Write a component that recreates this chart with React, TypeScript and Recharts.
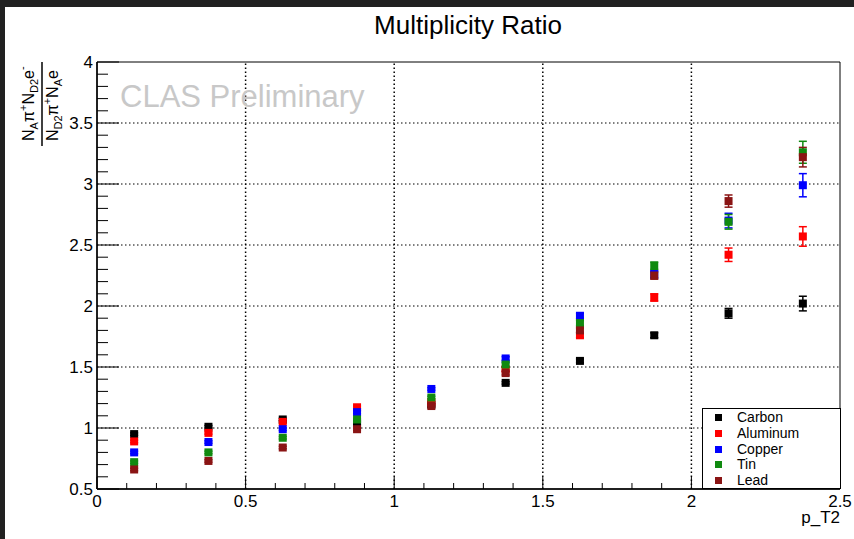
import { ErrorBar, Legend, ReferenceArea, ReferenceLine, Scatter, ScatterChart, XAxis, YAxis } from 'recharts';

// bin centres in p_T2
const pT2 = [0.125, 0.375, 0.625, 0.875, 1.125, 1.375, 1.625, 1.875, 2.125, 2.375];

const carbon = [0.95, 1.01, 1.07, 1.04, 1.19, 1.37, 1.55, 1.76, 1.94, 2.02];
const carbonErr = [0.01, 0.01, 0.01, 0.01, 0.01, 0.01, 0.015, 0.02, 0.04, 0.06];
const aluminum = [0.89, 0.96, 1.05, 1.17, 1.21, 1.48, 1.76, 2.07, 2.42, 2.57];
const aluminumErr = [0.01, 0.01, 0.01, 0.01, 0.01, 0.015, 0.02, 0.03, 0.055, 0.08];
const copper = [0.8, 0.885, 0.99, 1.13, 1.32, 1.57, 1.92, 2.26, 2.7, 2.99];
const copperErr = [0.01, 0.01, 0.01, 0.01, 0.01, 0.015, 0.02, 0.03, 0.06, 0.095];
const tin = [0.72, 0.8, 0.92, 1.07, 1.25, 1.52, 1.86, 2.33, 2.69, 3.26];
const tinErr = [0.01, 0.01, 0.01, 0.01, 0.01, 0.015, 0.02, 0.03, 0.06, 0.09];
const lead = [0.66, 0.73, 0.84, 0.99, 1.18, 1.45, 1.8, 2.25, 2.86, 3.22];
const leadErr = [0.01, 0.01, 0.01, 0.01, 0.01, 0.015, 0.02, 0.03, 0.05, 0.08];

const xGrid = [0.5, 1, 1.5, 2];
const yGrid = [1, 1.5, 2, 2.5, 3, 3.5];
const xTicks = Array.from({ length: 26 }, (_, i) => i / 10);
const yTicks = Array.from({ length: 36 }, (_, i) => 0.5 + i / 10);

const series = [
  { name: 'Carbon', color: '#000000', values: carbon, errors: carbonErr },
  { name: 'Aluminum', color: '#ff0000', values: aluminum, errors: aluminumErr },
  { name: 'Copper', color: '#0000ff', values: copper, errors: copperErr },
  { name: 'Tin', color: '#108a10', values: tin, errors: tinErr },
  { name: 'Lead', color: '#8a1414', values: lead, errors: leadErr },
];

const font = '"Liberation Sans", Arial, Helvetica, sans-serif';

const isMajor = (v: number) => Math.abs(v * 2 - Math.round(v * 2)) < 1e-6;
const label = (v: number) => String(Math.round(v * 10) / 10);

const XTick = ({ x, y, payload }: any) => {
  const major = isMajor(payload.value);
  return (
    <g>
      <line x1={x} x2={x} y1={y} y2={y - (major ? 12 : 6)} stroke="#000" />
      {major && (
        <text x={x} y={y + 18} textAnchor="middle" fontSize={17} fontFamily={font} fill="#000">
          {label(payload.value)}
        </text>
      )}
    </g>
  );
};

const YTick = ({ x, y, payload }: any) => {
  const major = isMajor(payload.value);
  return (
    <g>
      <line x1={x} x2={x + (major ? 22 : 11)} y1={y} y2={y} stroke="#000" />
      {major && (
        <text x={x - 4} y={y} dy={6} textAnchor="end" fontSize={17} fontFamily={font} fill="#000">
          {label(payload.value)}
        </text>
      )}
    </g>
  );
};

const LegendBox = () => (
  <div
    style={{
      width: 139,
      height: 81,
      boxSizing: 'border-box',
      border: '1px solid #000',
      background: '#fff',
      padding: '1px 0 0 0',
      fontFamily: font,
      fontSize: 14,
    }}
  >
    {series.map((s) => (
      <div key={s.name} style={{ height: 15.7, display: 'flex', alignItems: 'center' }}>
        <span style={{ width: 7, height: 7, background: s.color, marginLeft: 12, marginRight: 15 }} />
        <span style={{ lineHeight: '15px' }}>{s.name}</span>
      </div>
    ))}
  </div>
);

const App = () => {
  return (
    <div style={{ position: 'absolute', left: 0, top: 0, width: 854, height: 539, background: '#fff', overflow: 'hidden' }}>
      <ScatterChart width={854} height={539} margin={{ top: 62, right: 14, bottom: 0, left: 0 }}>
        <XAxis
          type="number"
          dataKey="x"
          domain={[0, 2.5]}
          ticks={xTicks}
          interval={0}
          tick={(p: any) => <XTick {...p} />}
          tickSize={0}
          tickMargin={0}
          tickLine={false}
          axisLine={{ stroke: '#000', strokeWidth: 1.5 }}
          height={50}
          allowDataOverflow
        />
        <YAxis
          type="number"
          dataKey="y"
          domain={[0.5, 4]}
          ticks={yTicks}
          interval={0}
          tick={(p: any) => <YTick {...p} />}
          tickSize={0}
          tickMargin={0}
          tickLine={false}
          axisLine={{ stroke: '#000', strokeWidth: 1.5 }}
          width={97}
          allowDataOverflow
        />
        <ReferenceArea x1={0} x2={2.5} y1={0.5} y2={4} fill="none" stroke="#000" strokeWidth={1} ifOverflow="visible" />
        {xGrid.map((v) => (
          <ReferenceLine key={`gx-${v}`} x={v} stroke="#000" strokeWidth={1.5} strokeDasharray="1.5 2.5" />
        ))}
        {yGrid.map((v) => (
          <ReferenceLine key={`gy-${v}`} y={v} stroke="#000" strokeWidth={1} strokeDasharray="1.5 2.5" />
        ))}
        {series.map((s) => (
          <Scatter
            key={s.name}
            name={s.name}
            data={pT2.map((x, i) => ({ x, y: s.values[i], err: s.errors[i] }))}
            fill={s.color}
            isAnimationActive={false}
            shape={(p: any) => <rect x={p.cx - 4} y={p.cy - 4} width={8} height={8} fill={s.color} />}
          >
            <ErrorBar dataKey="err" direction="y" width={4} stroke={s.color} strokeWidth={1.5} />
          </Scatter>
        ))}
        <Legend
          layout="vertical"
          align="center"
          verticalAlign="middle"
          wrapperStyle={{ left: 702, top: 408, width: 139, height: 81 }}
          content={() => <LegendBox />}
        />
      </ScatterChart>

      <svg width={854} height={539} style={{ position: 'absolute', left: 0, top: 0, pointerEvents: 'none' }}>
        <text x={468} y={34} textAnchor="middle" fontSize={26} fontFamily={font} fill="#000">
          Multiplicity Ratio
        </text>
        <text x={120} y={107} fontSize={31} fontFamily={font} fill="#c8c8c8">
          CLAS Preliminary
        </text>
        <text x={840} y={523} textAnchor="end" fontSize={17} fontFamily={font} fill="#000">
          p_T2
        </text>
        <g fontFamily={font} fill="#000">
          <text transform="translate(34,141) rotate(-90)" fontSize={16}>
            N
            <tspan fontSize={11} dy={4}>A</tspan>
            <tspan dy={-4}>π</tspan>
            <tspan fontSize={11} dy={-7}>+</tspan>
            <tspan dy={7}>N</tspan>
            <tspan fontSize={11} dy={4}>D2</tspan>
            <tspan dy={-4}>e</tspan>
            <tspan fontSize={11} dy={-8}>-</tspan>
          </text>
          <line x1={42} x2={42} y1={62} y2={146} stroke="#000" strokeWidth={1.5} />
          <text transform="translate(58,141) rotate(-90)" fontSize={16}>
            N
            <tspan fontSize={11} dy={4}>D2</tspan>
            <tspan dy={-4}>π</tspan>
            <tspan fontSize={11} dy={-7}>+</tspan>
            <tspan dy={7}>N</tspan>
            <tspan fontSize={11} dy={4}>A</tspan>
            <tspan dy={-4}>e</tspan>
          </text>
        </g>
      </svg>

      <div style={{ position: 'absolute', left: 0, top: 0, width: 854, height: 7, background: '#212121' }} />
      <div style={{ position: 'absolute', left: 0, top: 0, width: 5, height: 539, background: '#212121' }} />
    </div>
  );
};

export default App;
